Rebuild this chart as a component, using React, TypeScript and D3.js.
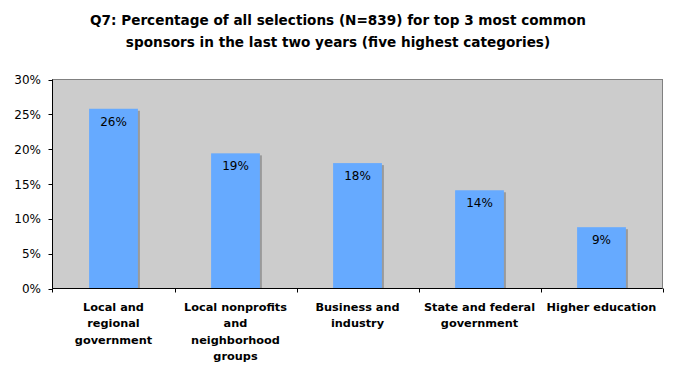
import React from "react";
import * as d3 from "d3";

const categories: string[][] = [
  ["Local and", "regional", "government"],
  ["Local nonprofits", "and", "neighborhood", "groups"],
  ["Business and", "industry"],
  ["State and federal", "government"],
  ["Higher education"],
];
const values: number[] = [25.8, 19.4, 18.0, 14.1, 8.8];
const valueLabels: string[] = ["26%", "19%", "18%", "14%", "9%"];
const yTicks: number[] = [0, 5, 10, 15, 20, 25, 30];
const titleLines: string[] = [
  "Q7: Percentage of all selections (N=839) for top 3 most common",
  "sponsors in the last two years (five highest categories)",
];

const W = 673;
const H = 377;
const plot = { left: 52.5, right: 662.5, top: 79.5, bottom: 288.5 };
const font = "Verdana, 'DejaVu Sans', sans-serif";

export default function App() {
  const x = d3
    .scaleBand<number>()
    .domain(values.map((_, i) => i))
    .range([plot.left, plot.right])
    .paddingInner(0.6)
    .paddingOuter(0.3);
  const band = d3.scaleBand<number>().domain(values.map((_, i) => i)).range([plot.left, plot.right]);
  const y = d3.scaleLinear().domain([0, 30]).range([plot.bottom, plot.top]);

  return (
    <svg
      width={W}
      height={H}
      style={{ position: "absolute", left: 0, top: 0, background: "#fff" }}
      fontFamily={font}
    >
      {titleLines.map((t, i) => (
        <text
          key={i}
          x={338}
          y={25 + i * 21.5}
          textAnchor="middle"
          fontSize={13.6}
          fontWeight="bold"
          fill="#000"
        >
          {t}
        </text>
      ))}
      <rect
        x={plot.left}
        y={plot.top}
        width={plot.right - plot.left}
        height={plot.bottom - plot.top}
        fill="#CCCCCC"
        stroke="#808080"
        strokeWidth={1}
      />
      {values.map((v, i) => (
        <g key={i}>
          <rect
            x={x(i)! + 2}
            y={y(v) + 2}
            width={x.bandwidth()}
            height={plot.bottom - y(v) - 2}
            fill="#9a9a9a"
          />
          <rect
            x={x(i)!}
            y={y(v)}
            width={x.bandwidth()}
            height={plot.bottom - y(v)}
            fill="#66AAFF"
          />
          <text
            x={x(i)! + x.bandwidth() / 2}
            y={y(v) + 17}
            textAnchor="middle"
            fontSize={12}
            fill="#000"
          >
            {valueLabels[i]}
          </text>
        </g>
      ))}
      <line x1={plot.left} x2={plot.left} y1={plot.top} y2={plot.bottom} stroke="#000" />
      <line x1={plot.left} x2={plot.right} y1={plot.bottom} y2={plot.bottom} stroke="#000" />
      {yTicks.map((t) => (
        <g key={t}>
          <line x1={plot.left - 4} x2={plot.left} y1={Math.round(y(t)) + 0.5} y2={Math.round(y(t)) + 0.5} stroke="#000" />
          <text x={41} y={y(t) + 4.5} textAnchor="end" fontSize={12} fill="#000">
            {t}%
          </text>
        </g>
      ))}
      {values.map((_, i) => (
        <line
          key={i}
          x1={Math.round(band(i)! + band.bandwidth()) + 0.5}
          x2={Math.round(band(i)! + band.bandwidth()) + 0.5}
          y1={plot.bottom}
          y2={plot.bottom + 4}
          stroke="#000"
        />
      ))}
      <line x1={plot.left} x2={plot.left} y1={plot.bottom} y2={plot.bottom + 4} stroke="#000" />
      {categories.map((lines, i) => (
        <text
          key={i}
          x={band(i)! + band.bandwidth() / 2}
          textAnchor="middle"
          fontSize={11.3}
          fontWeight="bold"
          fill="#000"
        >
          {lines.map((l, j) => (
            <tspan key={j} x={band(i)! + band.bandwidth() / 2} y={311 + j * 16.3}>
              {l}
            </tspan>
          ))}
        </text>
      ))}
    </svg>
  );
}
